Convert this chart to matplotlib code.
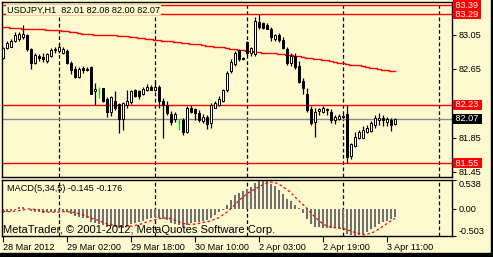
import numpy as np
import matplotlib
matplotlib.use('Agg')
import matplotlib.pyplot as plt
from matplotlib.patches import Rectangle

plt.rcParams['font.family'] = ['Liberation Sans', 'DejaVu Sans']

# USDJPY H1 bars, 28 Mar 2012 10:00 .. 3 Apr 2012 13:00
opens = [82.78, 82.89, 82.91, 82.98, 83.00, 83.02, 83.05, 82.88, 82.72, 82.80,
         82.79, 82.74, 82.80, 82.87, 82.86, 82.84, 82.86, 82.72, 82.65, 82.55,
         82.66, 82.65, 82.67, 82.39, 82.41, 82.43, 82.30, 82.15, 82.28, 82.24,
         82.07, 82.23, 82.27, 82.40, 82.39, 82.36, 82.40, 82.44, 82.40, 82.44,
         82.28, 82.23, 82.13, 82.07, 82.03, 82.06, 81.92, 82.20, 82.18, 82.14,
         82.04, 82.09, 82.02, 82.20, 82.23, 82.28, 82.40, 82.62, 82.71, 82.87,
         82.78, 82.96, 82.83, 82.82, 83.20, 83.18, 83.16, 83.12, 83.00, 83.05,
         82.99, 82.88, 82.72, 82.80, 82.68, 82.51, 82.36, 82.18, 82.03, 82.16,
         82.15, 82.18, 82.15, 82.06, 82.07, 82.10, 82.13, 81.63, 81.75, 81.85,
         81.85, 81.92, 81.93, 82.00, 82.06, 82.08, 82.03, 82.06, 82.01]
highs = [82.91, 82.97, 83.00, 83.08, 83.08, 83.16, 83.06, 82.89, 82.83, 82.82,
         82.83, 82.83, 82.89, 82.90, 82.94, 82.90, 82.88, 82.74, 82.68, 82.67,
         82.68, 82.67, 82.68, 82.49, 82.44, 82.43, 82.32, 82.34, 82.39, 82.25,
         82.27, 82.40, 82.41, 82.42, 82.41, 82.44, 82.47, 82.46, 82.50, 82.46,
         82.31, 82.28, 82.16, 82.15, 82.07, 82.08, 82.22, 82.23, 82.20, 82.17,
         82.13, 82.11, 82.25, 82.28, 82.33, 82.42, 82.63, 82.76, 82.86, 82.88,
         82.79, 82.97, 82.91, 83.26, 83.29, 83.20, 83.18, 83.14, 83.06, 83.07,
         83.02, 82.90, 82.83, 82.83, 82.74, 82.54, 82.43, 82.22, 82.20, 82.20,
         82.22, 82.20, 82.18, 82.11, 82.13, 82.13, 82.23, 81.79, 81.91, 81.94,
         81.98, 82.00, 82.04, 82.11, 82.14, 82.11, 82.09, 82.08, 82.08]
lows = [82.76, 82.88, 82.90, 82.96, 82.98, 83.00, 82.86, 82.65, 82.71, 82.74,
        82.73, 82.72, 82.79, 82.84, 82.84, 82.82, 82.71, 82.59, 82.54, 82.54,
        82.60, 82.63, 82.36, 82.23, 82.31, 82.26, 82.09, 82.10, 82.17, 81.90,
        81.94, 82.20, 82.24, 82.32, 82.30, 82.35, 82.39, 82.40, 82.39, 82.20,
        81.84, 82.11, 82.00, 82.03, 81.94, 81.88, 81.90, 82.14, 82.06, 82.03,
        82.02, 81.95, 81.96, 82.19, 82.22, 82.27, 82.38, 82.60, 82.68, 82.74,
        82.75, 82.81, 82.80, 82.80, 83.12, 83.12, 83.11, 82.98, 82.98, 82.96,
        82.88, 82.70, 82.68, 82.65, 82.48, 82.36, 82.15, 82.00, 81.86, 82.11,
        82.14, 82.11, 82.02, 82.01, 82.06, 82.08, 81.55, 81.60, 81.74, 81.83,
        81.84, 81.90, 81.91, 81.96, 82.00, 81.98, 81.99, 81.93, 82.00]
closes = [82.89, 82.95, 82.98, 83.05, 83.06, 83.06, 82.88, 82.72, 82.81, 82.78,
          82.76, 82.82, 82.87, 82.88, 82.90, 82.88, 82.72, 82.64, 82.55, 82.65,
          82.64, 82.64, 82.36, 82.42, 82.41, 82.28, 82.15, 82.32, 82.20, 82.07,
          82.25, 82.28, 82.39, 82.34, 82.33, 82.42, 82.44, 82.41, 82.44, 82.28,
          82.23, 82.14, 82.03, 82.13, 82.03, 81.91, 82.19, 82.15, 82.14, 82.06,
          82.09, 82.01, 82.23, 82.25, 82.30, 82.40, 82.60, 82.73, 82.83, 82.76,
          82.76, 82.84, 82.89, 83.21, 83.14, 83.13, 83.12, 83.02, 83.04, 82.99,
          82.89, 82.72, 82.80, 82.67, 82.50, 82.43, 82.17, 82.02, 82.15, 82.18,
          82.19, 82.17, 82.06, 82.09, 82.10, 82.09, 81.62, 81.77, 81.86, 81.91,
          81.94, 81.96, 82.02, 82.08, 82.08, 82.06, 82.07, 82.00, 82.07]

# red moving average on the price chart
ma = [83.14, 83.14, 83.13, 83.13, 83.13, 83.12, 83.12, 83.12, 83.11, 83.11,
      83.11, 83.10, 83.10, 83.10, 83.10, 83.09, 83.09, 83.08, 83.08, 83.07,
      83.06, 83.06, 83.06, 83.05, 83.05, 83.04, 83.04, 83.04, 83.04, 83.03,
      83.03, 83.03, 83.02, 83.02, 83.01, 83.01, 83.00, 83.00, 82.99, 82.99,
      82.98, 82.97, 82.97, 82.96, 82.96, 82.95, 82.95, 82.94, 82.94, 82.94,
      82.93, 82.92, 82.92, 82.91, 82.90, 82.90, 82.89, 82.88, 82.88, 82.87,
      82.87, 82.86, 82.86, 82.85, 82.85, 82.84, 82.84, 82.83, 82.83, 82.82,
      82.82, 82.81, 82.81, 82.80, 82.80, 82.79, 82.78, 82.78, 82.77, 82.76,
      82.75, 82.75, 82.74, 82.73, 82.72, 82.72, 82.71, 82.70, 82.69, 82.69,
      82.68, 82.67, 82.66, 82.66, 82.65, 82.64, 82.64, 82.63, 82.62]

# MACD(5,34,5)
macd = [-0.08, -0.06, -0.04, -0.02, 0.03, 0.03, 0.00, -0.03, -0.06, -0.06,
        -0.07, -0.06, -0.06, -0.05, -0.04, -0.04, -0.06, -0.09, -0.13, -0.15,
        -0.16, -0.17, -0.24, -0.27, -0.28, -0.29, -0.32, -0.31, -0.33, -0.36,
        -0.35, -0.32, -0.28, -0.26, -0.25, -0.22, -0.19, -0.17, -0.15, -0.16,
        -0.18, -0.21, -0.26, -0.28, -0.30, -0.33, -0.29, -0.26, -0.25, -0.24,
        -0.22, -0.21, -0.16, -0.11, -0.06, -0.02, 0.07, 0.17, 0.26, 0.30,
        0.33, 0.37, 0.41, 0.48, 0.53, 0.538, 0.52, 0.47, 0.42, 0.36,
        0.28, 0.19, 0.15, 0.08, 0.02, -0.08, -0.18, -0.28, -0.33, -0.34,
        -0.35, -0.35, -0.36, -0.36, -0.36, -0.38, -0.47, -0.49, -0.503, -0.49,
        -0.47, -0.43, -0.38, -0.33, -0.28, -0.25, -0.22, -0.18, -0.145]
signal = [-0.04, -0.05, -0.05, -0.04, -0.03, -0.02, 0.00, 0.00, -0.01, -0.02,
          -0.04, -0.06, -0.06, -0.06, -0.06, -0.05, -0.05, -0.06, -0.07, -0.09,
          -0.11, -0.14, -0.17, -0.19, -0.22, -0.25, -0.28, -0.29, -0.31, -0.32,
          -0.33, -0.33, -0.32, -0.31, -0.29, -0.27, -0.24, -0.22, -0.20, -0.18,
          -0.17, -0.17, -0.18, -0.21, -0.24, -0.27, -0.28, -0.29, -0.28, -0.27,
          -0.25, -0.24, -0.22, -0.19, -0.16, -0.11, -0.06, 0.01, 0.08, 0.16,
          0.22, 0.28, 0.33, 0.37, 0.41, 0.45, 0.48, 0.50, 0.49, 0.46,
          0.41, 0.36, 0.30, 0.22, 0.15, 0.08, 0.01, -0.08, -0.15, -0.22,
          -0.28, -0.32, -0.34, -0.35, -0.36, -0.36, -0.39, -0.41, -0.44, -0.46,
          -0.48, -0.47, -0.45, -0.42, -0.37, -0.32, -0.27, -0.22, -0.176]

red_levels = [83.39, 83.29, 82.23, 81.55]
bid = 82.07
price_ticks = [83.05, 82.65, 81.85, 81.45]
day_starts = [14, 38, 61, 85, 109]          # bar index of each 00:00
time_ticks = [0, 16, 32, 48, 64, 80, 96]
time_labels = ['28 Mar 2012', '29 Mar 02:00', '29 Mar 18:00', '30 Mar 10:00',
               '2 Apr 03:00', '2 Apr 19:00', '3 Apr 11:00']

bg = '#fff9cf'
fs = 6.6
W, H = 493, 257

def place(l, t, r, b):
    return [l / W, 1 - b / H, (r - l) / W, (b - t) / H]

fig = plt.figure(figsize=(W / 100, H / 100), dpi=100, facecolor=bg)
ax = fig.add_axes(place(2, 2, 452, 177), facecolor=bg)
ax2 = fig.add_axes(place(2, 180, 452, 236), facecolor=bg, sharex=ax)

o = np.array(opens); h = np.array(highs); l = np.array(lows); c = np.array(closes)
x = np.arange(len(o))
doji = o == c
up = c > o

# separators
for a in (ax, ax2):
    for d in day_starts:
        a.axvline(d, color='black', ls=(0, (3, 2)), lw=0.9, zorder=1)

for lv in red_levels:
    ax.axhline(lv, color='red', lw=1, zorder=1.5)
ax.axhline(bid, color='#7f8a95', lw=1, zorder=1.5)
ax.plot(x, ma, color='red', lw=1, zorder=2, drawstyle='steps-mid')

# candles
ax.vlines(x[~doji], l[~doji], h[~doji], colors='black', lw=0.9, zorder=3)
ax.vlines(x[doji], l[doji], h[doji], colors='#00e000', lw=0.9, zorder=3)
ax.hlines(o[doji], x[doji] - 0.35, x[doji] + 0.35, colors='#00e000', lw=0.9, zorder=4)
nd = ~doji
ax.bar(x[nd], np.abs(c - o)[nd], bottom=np.minimum(o, c)[nd], width=0.5,
       color=np.where(up, 'white', 'black')[nd], edgecolor='black', lw=0.7, zorder=4)

ax.set_xlim(-0.25, 112.25)
ax.set_ylim(81.39, 83.43)
ax.yaxis.tick_right()
ax.set_yticks(price_ticks)
ax.set_yticklabels([f'{v:.2f}' for v in price_ticks])
ax.tick_params(axis='y', length=3, width=0.8, pad=2, labelsize=fs, colors='black')
ax.tick_params(axis='x', bottom=False, labelbottom=False)

yt = ax.get_yaxis_transform()
for lv in red_levels:
    ax.text(1.003, lv, f' {lv:.2f} ', transform=yt, ha='left', va='center', fontsize=fs,
            color='white', clip_on=False, zorder=6,
            bbox=dict(boxstyle='square,pad=0.05', fc='red', ec='none'))
ax.text(1.003, bid, f' {bid:.2f} ', transform=yt, ha='left', va='center', fontsize=fs,
        color='white', clip_on=False, zorder=6,
        bbox=dict(boxstyle='square,pad=0.05', fc='black', ec='none'))

ax.text(0.011, 0.954, 'USDJPY,H1  82.01 82.08 82.00 82.07', transform=ax.transAxes,
        ha='left', va='center', fontsize=fs, zorder=6,
        bbox=dict(boxstyle='square,pad=0.1', fc=bg, ec='none'))

# MACD pane
ax2.bar(x, macd, width=0.6, color='#707070', lw=0, zorder=2)
ax2.plot(x, signal, color='red', ls=(0, (2, 2)), lw=0.9, zorder=3)
ax2.set_ylim(-0.503, 0.538)
ax2.yaxis.tick_right()
ax2.set_yticks([0.538, 0.0, -0.503])
ax2.set_yticklabels(['0.538', '0.00', '-0.503'])
ax2.tick_params(axis='y', length=3, width=0.8, pad=2, labelsize=fs)
lbls = ax2.get_yticklabels()
lbls[0].set_va('top')
lbls[2].set_va('bottom')

ax2.set_xticks(time_ticks)
ax2.set_xticklabels(time_labels)
ax2.tick_params(axis='x', length=4, width=0.8, pad=1, labelsize=fs, direction='out')
for t in ax2.get_xticklabels():
    t.set_ha('left')

ax2.text(0.011, 0.84, 'MACD(5,34,5) -0.145 -0.176', transform=ax2.transAxes,
         ha='left', va='center', fontsize=fs, zorder=5)
ax2.text(0.002, 0.1, 'MetaTrader, \u00a9 2001-2012, MetaQuotes Software Corp.',
         transform=ax2.transAxes, ha='left', va='center', fontsize=8, zorder=5)

for a in (ax, ax2):
    for s in a.spines.values():
        s.set_color('black')
        s.set_linewidth(1)

fig.patches.append(Rectangle((0, 0), 1, 4 / H, transform=fig.transFigure,
                             color='black', zorder=10))
fig.patches.append(Rectangle((491 / W, 0), 2 / W, 1, transform=fig.transFigure,
                             color='black', zorder=10))

fig.savefig('out.png', dpi=100, facecolor=bg)
